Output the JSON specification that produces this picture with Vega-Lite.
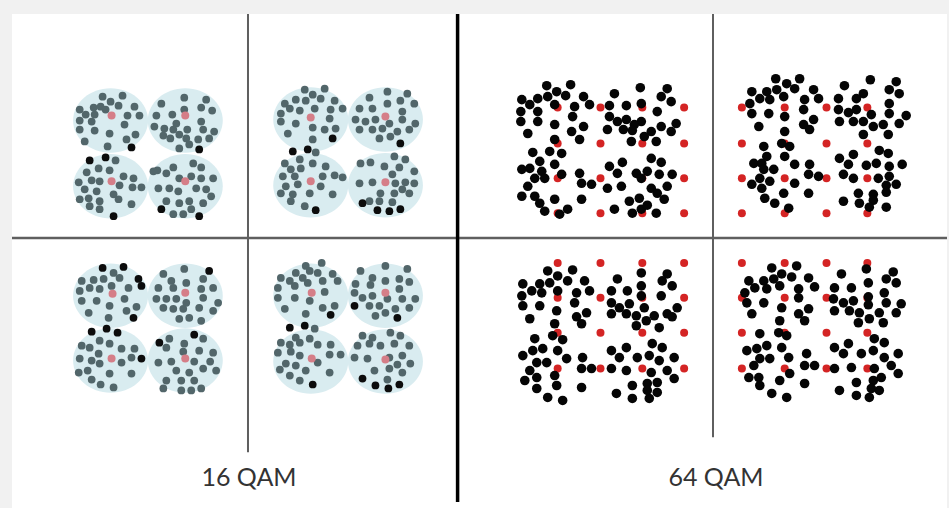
{
"$schema":"https://vega.github.io/schema/vega-lite/v6.json",
"width":949,"height":508,
"autosize":{"type":"fit","contains":"padding"},
"padding":{"left":10,"top":12,"right":0,"bottom":0},
"background":"#f1f1f1",
"config":{"view":{"stroke":null,"fill":"#ffffff"}},
"datasets":{
"discs":[{"x":109,"y":119},{"x":184,"y":119},{"x":109,"y":185},{"x":184,"y":185},{"x":310,"y":118},{"x":385,"y":118},{"x":310,"y":184},{"x":385,"y":184},{"x":109,"y":295},{"x":184,"y":295},{"x":109,"y":360},{"x":184,"y":360},{"x":310,"y":295},{"x":385,"y":295},{"x":310,"y":361},{"x":385,"y":361}],
"ideal16":[{"x":110,"y":114},{"x":184,"y":114},{"x":110,"y":180},{"x":184,"y":180},{"x":310,"y":116},{"x":385,"y":115},{"x":310,"y":180},{"x":385,"y":181},{"x":111,"y":293},{"x":184,"y":292},{"x":110,"y":358},{"x":184,"y":358},{"x":311,"y":292},{"x":385,"y":292},{"x":311,"y":358},{"x":385,"y":359}],
"noise16":[
{"x":101,"y":95,"t":"g"},{"x":121,"y":94,"t":"g"},{"x":109,"y":100,"t":"g"},{"x":117,"y":104,"t":"g"},{"x":92,"y":106,"t":"g"},{"x":99,"y":105,"t":"g"},{"x":104,"y":108,"t":"g"},{"x":78,"y":108,"t":"g"},{"x":84,"y":113,"t":"g"},{"x":93,"y":113,"t":"g"},{"x":133,"y":105,"t":"g"},{"x":138,"y":114,"t":"g"},{"x":126,"y":114,"t":"g"},{"x":78,"y":119,"t":"g"},{"x":90,"y":120,"t":"g"},{"x":123,"y":123,"t":"g"},{"x":134,"y":133,"t":"g"},{"x":78,"y":128,"t":"g"},{"x":93,"y":129,"t":"g"},{"x":108,"y":132,"t":"g"},{"x":83,"y":140,"t":"g"},{"x":106,"y":145,"t":"g"},{"x":125,"y":138,"t":"g"},{"x":130,"y":146,"t":"k"},
{"x":160,"y":102,"t":"g"},{"x":183,"y":96,"t":"g"},{"x":205,"y":98,"t":"g"},{"x":200,"y":106,"t":"g"},{"x":211,"y":109,"t":"g"},{"x":171,"y":113,"t":"g"},{"x":155,"y":114,"t":"g"},{"x":183,"y":108,"t":"g"},{"x":200,"y":120,"t":"g"},{"x":175,"y":122,"t":"g"},{"x":153,"y":125,"t":"g"},{"x":163,"y":127,"t":"g"},{"x":172,"y":128,"t":"g"},{"x":186,"y":128,"t":"g"},{"x":202,"y":128,"t":"g"},{"x":213,"y":130,"t":"g"},{"x":162,"y":134,"t":"g"},{"x":169,"y":137,"t":"g"},{"x":178,"y":133,"t":"g"},{"x":185,"y":137,"t":"g"},{"x":197,"y":138,"t":"g"},{"x":208,"y":137,"t":"g"},{"x":178,"y":147,"t":"g"},{"x":188,"y":143,"t":"g"},{"x":198,"y":148,"t":"k"},
{"x":88,"y":159,"t":"k"},{"x":104,"y":156,"t":"k"},{"x":114,"y":159,"t":"g"},{"x":97,"y":167,"t":"g"},{"x":108,"y":169,"t":"g"},{"x":85,"y":171,"t":"g"},{"x":122,"y":175,"t":"g"},{"x":90,"y":179,"t":"g"},{"x":98,"y":180,"t":"g"},{"x":132,"y":177,"t":"g"},{"x":77,"y":181,"t":"g"},{"x":83,"y":188,"t":"g"},{"x":95,"y":190,"t":"g"},{"x":118,"y":184,"t":"g"},{"x":131,"y":186,"t":"g"},{"x":140,"y":186,"t":"g"},{"x":112,"y":193,"t":"g"},{"x":87,"y":197,"t":"g"},{"x":78,"y":198,"t":"g"},{"x":117,"y":198,"t":"g"},{"x":98,"y":200,"t":"g"},{"x":130,"y":203,"t":"g"},{"x":88,"y":205,"t":"g"},{"x":98,"y":208,"t":"g"},{"x":112,"y":215,"t":"k"},
{"x":192,"y":162,"t":"g"},{"x":200,"y":166,"t":"g"},{"x":172,"y":166,"t":"g"},{"x":156,"y":169,"t":"g"},{"x":165,"y":172,"t":"g"},{"x":190,"y":175,"t":"g"},{"x":178,"y":177,"t":"g"},{"x":200,"y":177,"t":"g"},{"x":212,"y":177,"t":"g"},{"x":157,"y":187,"t":"g"},{"x":168,"y":187,"t":"g"},{"x":195,"y":187,"t":"g"},{"x":205,"y":188,"t":"g"},{"x":177,"y":190,"t":"g"},{"x":210,"y":195,"t":"g"},{"x":165,"y":200,"t":"g"},{"x":178,"y":202,"t":"g"},{"x":188,"y":200,"t":"g"},{"x":202,"y":202,"t":"g"},{"x":190,"y":208,"t":"g"},{"x":160,"y":208,"t":"k"},{"x":172,"y":213,"t":"g"},{"x":182,"y":213,"t":"g"},{"x":198,"y":215,"t":"k"},{"x":152,"y":170,"t":"g"},
{"x":304,"y":88,"t":"g"},{"x":324,"y":87,"t":"g"},{"x":312,"y":93,"t":"g"},{"x":295,"y":98,"t":"g"},{"x":305,"y":99,"t":"g"},{"x":320,"y":97,"t":"g"},{"x":284,"y":102,"t":"g"},{"x":289,"y":107,"t":"g"},{"x":299,"y":109,"t":"g"},{"x":334,"y":99,"t":"g"},{"x":342,"y":107,"t":"g"},{"x":330,"y":108,"t":"g"},{"x":280,"y":112,"t":"g"},{"x":314,"y":107,"t":"g"},{"x":329,"y":117,"t":"g"},{"x":280,"y":120,"t":"g"},{"x":295,"y":122,"t":"g"},{"x":312,"y":126,"t":"g"},{"x":335,"y":127,"t":"g"},{"x":287,"y":132,"t":"g"},{"x":312,"y":138,"t":"g"},{"x":324,"y":128,"t":"g"},{"x":332,"y":137,"t":"k"},
{"x":387,"y":90,"t":"g"},{"x":407,"y":92,"t":"g"},{"x":369,"y":96,"t":"g"},{"x":400,"y":99,"t":"g"},{"x":414,"y":102,"t":"g"},{"x":359,"y":107,"t":"g"},{"x":372,"y":107,"t":"g"},{"x":387,"y":102,"t":"g"},{"x":402,"y":110,"t":"g"},{"x":355,"y":118,"t":"g"},{"x":365,"y":120,"t":"g"},{"x":375,"y":118,"t":"g"},{"x":389,"y":122,"t":"g"},{"x":402,"y":118,"t":"g"},{"x":415,"y":122,"t":"g"},{"x":359,"y":128,"t":"g"},{"x":372,"y":128,"t":"g"},{"x":382,"y":127,"t":"g"},{"x":397,"y":130,"t":"g"},{"x":409,"y":128,"t":"g"},{"x":379,"y":137,"t":"g"},{"x":390,"y":135,"t":"g"},{"x":400,"y":142,"t":"k"},
{"x":292,"y":150,"t":"k"},{"x":307,"y":148,"t":"k"},{"x":315,"y":151,"t":"g"},{"x":299,"y":158,"t":"g"},{"x":312,"y":162,"t":"g"},{"x":284,"y":162,"t":"g"},{"x":290,"y":168,"t":"g"},{"x":300,"y":167,"t":"g"},{"x":325,"y":165,"t":"g"},{"x":282,"y":175,"t":"g"},{"x":294,"y":175,"t":"g"},{"x":322,"y":175,"t":"g"},{"x":334,"y":174,"t":"g"},{"x":342,"y":176,"t":"g"},{"x":285,"y":185,"t":"g"},{"x":297,"y":183,"t":"g"},{"x":320,"y":185,"t":"g"},{"x":280,"y":192,"t":"g"},{"x":292,"y":193,"t":"g"},{"x":309,"y":192,"t":"g"},{"x":332,"y":193,"t":"g"},{"x":290,"y":200,"t":"g"},{"x":304,"y":205,"t":"g"},{"x":315,"y":209,"t":"k"},
{"x":394,"y":155,"t":"g"},{"x":405,"y":158,"t":"g"},{"x":360,"y":162,"t":"g"},{"x":370,"y":161,"t":"g"},{"x":384,"y":165,"t":"g"},{"x":399,"y":166,"t":"g"},{"x":414,"y":170,"t":"g"},{"x":359,"y":182,"t":"g"},{"x":372,"y":181,"t":"g"},{"x":395,"y":182,"t":"g"},{"x":405,"y":181,"t":"g"},{"x":392,"y":173,"t":"g"},{"x":402,"y":188,"t":"g"},{"x":380,"y":192,"t":"g"},{"x":394,"y":192,"t":"g"},{"x":409,"y":192,"t":"g"},{"x":369,"y":200,"t":"g"},{"x":379,"y":200,"t":"g"},{"x":392,"y":201,"t":"g"},{"x":362,"y":202,"t":"k"},{"x":377,"y":209,"t":"k"},{"x":389,"y":210,"t":"k"},{"x":400,"y":208,"t":"k"},{"x":414,"y":182,"t":"g"},
{"x":101,"y":267,"t":"k"},{"x":122,"y":266,"t":"k"},{"x":112,"y":272,"t":"g"},{"x":137,"y":278,"t":"k"},{"x":80,"y":280,"t":"g"},{"x":92,"y":279,"t":"g"},{"x":102,"y":278,"t":"g"},{"x":118,"y":277,"t":"g"},{"x":88,"y":287,"t":"g"},{"x":98,"y":288,"t":"g"},{"x":78,"y":290,"t":"g"},{"x":127,"y":287,"t":"g"},{"x":140,"y":285,"t":"k"},{"x":110,"y":285,"t":"g"},{"x":123,"y":298,"t":"g"},{"x":135,"y":306,"t":"g"},{"x":80,"y":300,"t":"g"},{"x":95,"y":300,"t":"g"},{"x":108,"y":305,"t":"g"},{"x":87,"y":312,"t":"g"},{"x":107,"y":317,"t":"g"},{"x":125,"y":310,"t":"g"},{"x":132,"y":317,"t":"k"},
{"x":162,"y":273,"t":"g"},{"x":183,"y":268,"t":"g"},{"x":208,"y":270,"t":"k"},{"x":170,"y":280,"t":"g"},{"x":202,"y":278,"t":"g"},{"x":212,"y":287,"t":"g"},{"x":157,"y":287,"t":"g"},{"x":172,"y":287,"t":"g"},{"x":185,"y":282,"t":"g"},{"x":200,"y":288,"t":"g"},{"x":155,"y":298,"t":"g"},{"x":165,"y":298,"t":"g"},{"x":175,"y":298,"t":"g"},{"x":185,"y":302,"t":"g"},{"x":202,"y":297,"t":"g"},{"x":217,"y":302,"t":"g"},{"x":162,"y":307,"t":"g"},{"x":172,"y":308,"t":"g"},{"x":182,"y":308,"t":"g"},{"x":198,"y":307,"t":"g"},{"x":212,"y":310,"t":"g"},{"x":178,"y":318,"t":"g"},{"x":188,"y":317,"t":"g"},{"x":200,"y":320,"t":"g"},
{"x":90,"y":331,"t":"k"},{"x":105,"y":328,"t":"k"},{"x":116,"y":332,"t":"k"},{"x":98,"y":340,"t":"g"},{"x":108,"y":343,"t":"g"},{"x":80,"y":345,"t":"g"},{"x":88,"y":347,"t":"g"},{"x":120,"y":348,"t":"g"},{"x":97,"y":353,"t":"g"},{"x":133,"y":348,"t":"g"},{"x":90,"y":360,"t":"g"},{"x":130,"y":357,"t":"g"},{"x":140,"y":358,"t":"k"},{"x":78,"y":358,"t":"g"},{"x":98,"y":363,"t":"g"},{"x":120,"y":362,"t":"g"},{"x":86,"y":370,"t":"g"},{"x":77,"y":372,"t":"g"},{"x":108,"y":373,"t":"g"},{"x":130,"y":373,"t":"g"},{"x":90,"y":379,"t":"g"},{"x":99,"y":384,"t":"g"},{"x":112,"y":387,"t":"g"},
{"x":158,"y":342,"t":"k"},{"x":168,"y":338,"t":"g"},{"x":193,"y":334,"t":"k"},{"x":202,"y":338,"t":"g"},{"x":183,"y":343,"t":"g"},{"x":165,"y":347,"t":"g"},{"x":182,"y":351,"t":"g"},{"x":198,"y":350,"t":"g"},{"x":212,"y":352,"t":"g"},{"x":157,"y":362,"t":"g"},{"x":170,"y":361,"t":"g"},{"x":193,"y":361,"t":"g"},{"x":209,"y":361,"t":"g"},{"x":202,"y":368,"t":"g"},{"x":215,"y":370,"t":"g"},{"x":175,"y":370,"t":"g"},{"x":188,"y":372,"t":"g"},{"x":165,"y":380,"t":"g"},{"x":180,"y":380,"t":"g"},{"x":193,"y":380,"t":"g"},{"x":162,"y":388,"t":"g"},{"x":180,"y":390,"t":"g"},{"x":190,"y":390,"t":"g"},{"x":200,"y":388,"t":"g"},
{"x":305,"y":265,"t":"g"},{"x":321,"y":262,"t":"g"},{"x":295,"y":272,"t":"g"},{"x":309,"y":270,"t":"g"},{"x":317,"y":272,"t":"g"},{"x":280,"y":277,"t":"g"},{"x":289,"y":280,"t":"g"},{"x":302,"y":277,"t":"g"},{"x":332,"y":273,"t":"g"},{"x":337,"y":280,"t":"g"},{"x":322,"y":280,"t":"g"},{"x":307,"y":282,"t":"g"},{"x":277,"y":287,"t":"g"},{"x":294,"y":285,"t":"g"},{"x":324,"y":291,"t":"g"},{"x":277,"y":297,"t":"g"},{"x":294,"y":297,"t":"g"},{"x":309,"y":300,"t":"g"},{"x":322,"y":307,"t":"g"},{"x":334,"y":305,"t":"g"},{"x":284,"y":308,"t":"g"},{"x":305,"y":313,"t":"g"},{"x":330,"y":314,"t":"k"},
{"x":360,"y":270,"t":"g"},{"x":385,"y":265,"t":"g"},{"x":407,"y":268,"t":"g"},{"x":372,"y":277,"t":"g"},{"x":399,"y":278,"t":"g"},{"x":409,"y":281,"t":"g"},{"x":355,"y":283,"t":"g"},{"x":370,"y":284,"t":"g"},{"x":385,"y":280,"t":"g"},{"x":354,"y":292,"t":"g"},{"x":362,"y":297,"t":"g"},{"x":372,"y":295,"t":"g"},{"x":399,"y":288,"t":"g"},{"x":402,"y":298,"t":"g"},{"x":415,"y":298,"t":"g"},{"x":354,"y":305,"t":"k"},{"x":369,"y":305,"t":"g"},{"x":379,"y":305,"t":"g"},{"x":387,"y":298,"t":"g"},{"x":395,"y":308,"t":"g"},{"x":409,"y":307,"t":"g"},{"x":375,"y":315,"t":"g"},{"x":385,"y":312,"t":"g"},{"x":397,"y":317,"t":"k"},
{"x":289,"y":327,"t":"k"},{"x":304,"y":325,"t":"k"},{"x":314,"y":328,"t":"g"},{"x":295,"y":337,"t":"g"},{"x":309,"y":338,"t":"g"},{"x":280,"y":342,"t":"g"},{"x":289,"y":344,"t":"g"},{"x":299,"y":342,"t":"g"},{"x":317,"y":344,"t":"g"},{"x":330,"y":344,"t":"g"},{"x":277,"y":352,"t":"g"},{"x":290,"y":351,"t":"g"},{"x":299,"y":355,"t":"g"},{"x":329,"y":354,"t":"g"},{"x":340,"y":354,"t":"g"},{"x":285,"y":363,"t":"g"},{"x":295,"y":365,"t":"g"},{"x":317,"y":362,"t":"g"},{"x":279,"y":369,"t":"g"},{"x":305,"y":370,"t":"g"},{"x":329,"y":372,"t":"g"},{"x":289,"y":375,"t":"g"},{"x":299,"y":380,"t":"g"},{"x":312,"y":384,"t":"k"},
{"x":362,"y":335,"t":"g"},{"x":372,"y":337,"t":"g"},{"x":390,"y":332,"t":"g"},{"x":400,"y":335,"t":"g"},{"x":357,"y":345,"t":"g"},{"x":369,"y":343,"t":"g"},{"x":380,"y":345,"t":"g"},{"x":394,"y":343,"t":"g"},{"x":409,"y":345,"t":"g"},{"x":354,"y":357,"t":"g"},{"x":367,"y":358,"t":"g"},{"x":389,"y":357,"t":"g"},{"x":402,"y":355,"t":"g"},{"x":397,"y":364,"t":"g"},{"x":410,"y":363,"t":"g"},{"x":374,"y":370,"t":"g"},{"x":389,"y":368,"t":"g"},{"x":402,"y":372,"t":"g"},{"x":362,"y":378,"t":"k"},{"x":387,"y":379,"t":"g"},{"x":375,"y":385,"t":"k"},{"x":388,"y":388,"t":"k"},{"x":399,"y":384,"t":"k"}],
"ideal64":[
{"x":558,"y":106},{"x":601,"y":106},{"x":643,"y":106},{"x":685,"y":106},{"x":558,"y":142},{"x":601,"y":142},{"x":643,"y":142},{"x":685,"y":142},{"x":558,"y":177},{"x":601,"y":177},{"x":643,"y":177},{"x":685,"y":177},{"x":558,"y":212},{"x":601,"y":212},{"x":643,"y":212},{"x":685,"y":212},
{"x":743,"y":106},{"x":786,"y":106},{"x":828,"y":106},{"x":869,"y":106},{"x":743,"y":142},{"x":786,"y":142},{"x":828,"y":142},{"x":869,"y":142},{"x":743,"y":177},{"x":786,"y":177},{"x":828,"y":177},{"x":869,"y":177},{"x":743,"y":212},{"x":786,"y":212},{"x":828,"y":212},{"x":869,"y":212},
{"x":558,"y":262},{"x":601,"y":262},{"x":643,"y":262},{"x":685,"y":262},{"x":558,"y":297},{"x":601,"y":297},{"x":643,"y":297},{"x":685,"y":297},{"x":558,"y":332},{"x":601,"y":332},{"x":643,"y":332},{"x":685,"y":332},{"x":558,"y":368},{"x":601,"y":368},{"x":643,"y":368},{"x":685,"y":368},
{"x":743,"y":262},{"x":786,"y":262},{"x":828,"y":262},{"x":869,"y":262},{"x":743,"y":297},{"x":786,"y":297},{"x":828,"y":297},{"x":869,"y":297},{"x":743,"y":332},{"x":786,"y":332},{"x":828,"y":332},{"x":869,"y":332},{"x":743,"y":368},{"x":786,"y":368},{"x":828,"y":368},{"x":869,"y":368}],
"noise64":[
{"x":547,"y":84},{"x":571,"y":83},{"x":557,"y":90},{"x":566,"y":94},{"x":548,"y":95},{"x":584,"y":95},{"x":522,"y":98},{"x":538,"y":97},{"x":530,"y":103},{"x":555,"y":103},{"x":575,"y":105},{"x":590,"y":103},{"x":521,"y":110},{"x":538,"y":110},{"x":573,"y":115},{"x":555,"y":123},{"x":521,"y":120},{"x":538,"y":120},{"x":528,"y":132},{"x":572,"y":130},{"x":584,"y":125},{"x":580,"y":138},{"x":555,"y":138},{"x":615,"y":92},{"x":641,"y":86},{"x":668,"y":87},{"x":662,"y":95},{"x":672,"y":100},{"x":642,"y":102},{"x":610,"y":104},{"x":627,"y":104},{"x":658,"y":110},{"x":610,"y":115},{"x":618,"y":120},{"x":627,"y":118},{"x":642,"y":120},{"x":635,"y":123},{"x":608,"y":128},{"x":624,"y":128},{"x":633,"y":129},{"x":652,"y":130},{"x":662,"y":125},{"x":677,"y":122},{"x":672,"y":130},{"x":645,"y":135},{"x":632,"y":140},{"x":657,"y":140},
{"x":533,"y":151},{"x":550,"y":150},{"x":562,"y":152},{"x":540,"y":160},{"x":555,"y":163},{"x":522,"y":168},{"x":530,"y":167},{"x":542,"y":170},{"x":562,"y":173},{"x":535,"y":177},{"x":545,"y":177},{"x":580,"y":172},{"x":582,"y":182},{"x":592,"y":183},{"x":528,"y":185},{"x":522,"y":195},{"x":535,"y":195},{"x":555,"y":198},{"x":540,"y":202},{"x":545,"y":210},{"x":560,"y":213},{"x":568,"y":208},{"x":582,"y":198},{"x":610,"y":165},{"x":623,"y":161},{"x":652,"y":157},{"x":662,"y":161},{"x":618,"y":172},{"x":637,"y":172},{"x":648,"y":170},{"x":660,"y":173},{"x":673,"y":173},{"x":608,"y":187},{"x":622,"y":185},{"x":642,"y":177},{"x":652,"y":187},{"x":668,"y":185},{"x":640,"y":197},{"x":658,"y":192},{"x":665,"y":198},{"x":630,"y":200},{"x":615,"y":208},{"x":633,"y":212},{"x":642,"y":208},{"x":657,"y":212},{"x":648,"y":204},
{"x":777,"y":77},{"x":801,"y":77},{"x":788,"y":82},{"x":796,"y":87},{"x":778,"y":88},{"x":768,"y":90},{"x":753,"y":90},{"x":761,"y":97},{"x":771,"y":98},{"x":785,"y":95},{"x":815,"y":88},{"x":806,"y":98},{"x":820,"y":97},{"x":751,"y":102},{"x":753,"y":112},{"x":770,"y":112},{"x":786,"y":115},{"x":805,"y":108},{"x":815,"y":118},{"x":805,"y":123},{"x":760,"y":125},{"x":811,"y":128},{"x":786,"y":130},{"x":846,"y":84},{"x":872,"y":78},{"x":898,"y":80},{"x":891,"y":88},{"x":901,"y":92},{"x":865,"y":92},{"x":840,"y":97},{"x":858,"y":97},{"x":891,"y":102},{"x":840,"y":108},{"x":850,"y":111},{"x":858,"y":108},{"x":873,"y":113},{"x":891,"y":112},{"x":908,"y":114},{"x":865,"y":120},{"x":841,"y":120},{"x":855,"y":120},{"x":885,"y":123},{"x":875,"y":125},{"x":901,"y":122},{"x":865,"y":133},{"x":890,"y":133},
{"x":765,"y":145},{"x":783,"y":142},{"x":791,"y":145},{"x":768,"y":155},{"x":786,"y":155},{"x":755,"y":162},{"x":763,"y":162},{"x":796,"y":163},{"x":765,"y":168},{"x":775,"y":168},{"x":811,"y":163},{"x":753,"y":183},{"x":761,"y":177},{"x":771,"y":180},{"x":763,"y":187},{"x":796,"y":182},{"x":785,"y":192},{"x":766,"y":197},{"x":776,"y":202},{"x":790,"y":207},{"x":810,"y":173},{"x":820,"y":175},{"x":810,"y":192},{"x":841,"y":157},{"x":855,"y":153},{"x":881,"y":149},{"x":890,"y":152},{"x":850,"y":163},{"x":868,"y":164},{"x":878,"y":162},{"x":891,"y":165},{"x":904,"y":163},{"x":845,"y":173},{"x":855,"y":177},{"x":880,"y":177},{"x":891,"y":175},{"x":898,"y":183},{"x":888,"y":184},{"x":860,"y":192},{"x":875,"y":193},{"x":888,"y":191},{"x":845,"y":200},{"x":861,"y":202},{"x":875,"y":199},{"x":871,"y":206},{"x":888,"y":206},
{"x":548,"y":270},{"x":558,"y":275},{"x":573,"y":269},{"x":568,"y":280},{"x":550,"y":282},{"x":540,"y":283},{"x":523,"y":283},{"x":585,"y":280},{"x":532,"y":290},{"x":542,"y":292},{"x":522,"y":295},{"x":558,"y":290},{"x":577,"y":292},{"x":590,"y":290},{"x":575,"y":302},{"x":540,"y":305},{"x":523,"y":305},{"x":557,"y":310},{"x":587,"y":312},{"x":530,"y":318},{"x":577,"y":316},{"x":582,"y":323},{"x":555,"y":323},{"x":618,"y":278},{"x":642,"y":272},{"x":668,"y":273},{"x":663,"y":280},{"x":673,"y":285},{"x":642,"y":285},{"x":612,"y":290},{"x":628,"y":290},{"x":662,"y":295},{"x":612,"y":302},{"x":620,"y":307},{"x":630,"y":303},{"x":642,"y":295},{"x":645,"y":307},{"x":612,"y":313},{"x":627,"y":313},{"x":637,"y":315},{"x":655,"y":315},{"x":668,"y":313},{"x":678,"y":307},{"x":673,"y":316},{"x":647,"y":320},{"x":637,"y":325},{"x":660,"y":327},
{"x":535,"y":338},{"x":553,"y":335},{"x":563,"y":339},{"x":533,"y":350},{"x":543,"y":348},{"x":523,"y":355},{"x":558,"y":350},{"x":567,"y":358},{"x":537,"y":362},{"x":547,"y":362},{"x":583,"y":357},{"x":582,"y":368},{"x":592,"y":368},{"x":530,"y":370},{"x":525,"y":380},{"x":537,"y":377},{"x":555,"y":375},{"x":537,"y":388},{"x":557,"y":385},{"x":548,"y":397},{"x":563,"y":400},{"x":582,"y":387},{"x":612,"y":350},{"x":627,"y":347},{"x":653,"y":343},{"x":663,"y":347},{"x":620,"y":357},{"x":638,"y":357},{"x":650,"y":355},{"x":660,"y":360},{"x":675,"y":357},{"x":612,"y":368},{"x":627,"y":370},{"x":652,"y":372},{"x":668,"y":370},{"x":675,"y":378},{"x":658,"y":382},{"x":633,"y":385},{"x":648,"y":383},{"x":617,"y":393},{"x":633,"y":398},{"x":650,"y":398},{"x":658,"y":392},{"x":648,"y":390},
{"x":773,"y":267},{"x":798,"y":265},{"x":783,"y":273},{"x":793,"y":276},{"x":775,"y":278},{"x":810,"y":277},{"x":750,"y":280},{"x":765,"y":280},{"x":756,"y":287},{"x":768,"y":288},{"x":781,"y":285},{"x":800,"y":288},{"x":816,"y":286},{"x":746,"y":292},{"x":748,"y":302},{"x":765,"y":302},{"x":783,"y":307},{"x":800,"y":297},{"x":810,"y":308},{"x":800,"y":313},{"x":753,"y":313},{"x":806,"y":320},{"x":781,"y":320},{"x":843,"y":273},{"x":868,"y":268},{"x":895,"y":271},{"x":888,"y":278},{"x":898,"y":282},{"x":870,"y":282},{"x":836,"y":287},{"x":853,"y":287},{"x":886,"y":292},{"x":835,"y":298},{"x":845,"y":302},{"x":855,"y":300},{"x":870,"y":296},{"x":888,"y":302},{"x":903,"y":303},{"x":870,"y":304},{"x":836,"y":310},{"x":851,"y":310},{"x":861,"y":312},{"x":881,"y":312},{"x":898,"y":312},{"x":860,"y":322},{"x":871,"y":318},{"x":885,"y":322},
{"x":761,"y":333},{"x":780,"y":332},{"x":788,"y":335},{"x":748,"y":350},{"x":758,"y":348},{"x":768,"y":345},{"x":783,"y":347},{"x":808,"y":353},{"x":761,"y":358},{"x":771,"y":358},{"x":790,"y":357},{"x":755,"y":365},{"x":806,"y":365},{"x":816,"y":365},{"x":750,"y":377},{"x":760,"y":377},{"x":781,"y":380},{"x":791,"y":373},{"x":761,"y":385},{"x":773,"y":393},{"x":788,"y":397},{"x":806,"y":383},{"x":836,"y":347},{"x":850,"y":343},{"x":876,"y":338},{"x":886,"y":342},{"x":845,"y":353},{"x":863,"y":353},{"x":875,"y":350},{"x":886,"y":357},{"x":900,"y":353},{"x":836,"y":368},{"x":853,"y":367},{"x":876,"y":368},{"x":893,"y":365},{"x":900,"y":373},{"x":883,"y":377},{"x":858,"y":382},{"x":875,"y":380},{"x":841,"y":390},{"x":858,"y":395},{"x":871,"y":397},{"x":881,"y":390},{"x":873,"y":388}],
"vrules":[{"x":247,"y":12,"y2":452},{"x":714,"y":12,"y2":437}],
"hrules":[{"x":10,"x2":456,"y":237},{"x":459,"x2":949,"y":237}],
"divider":[{"x":457.5,"y":12,"y2":502}],
"labels":[{"x":248,"y":478,"label":"16 QAM"},{"x":717,"y":478,"label":"64 QAM"}]
},
"encoding":{
"x":{"field":"x","type":"quantitative","scale":{"domain":[10,949],"nice":false,"zero":false},"axis":null},
"y":{"field":"y","type":"quantitative","scale":{"domain":[12,508],"nice":false,"zero":false,"reverse":true},"axis":null}
},
"layer":[
{"data":{"name":"discs"},"mark":{"type":"point","filled":true,"shape":"M-1,0A1,0.86,0,1,0,1,0A1,0.86,0,1,0,-1,0Z","size":5625,"color":"#d9ecf0","opacity":1}},
{"data":{"name":"noise16"},"mark":{"type":"circle","size":60,"opacity":1},"encoding":{"color":{"field":"t","type":"nominal","scale":{"domain":["g","k"],"range":["#52666a","#0c0c0c"]},"legend":null}}},
{"data":{"name":"ideal16"},"mark":{"type":"circle","size":64,"color":"#d57e88","opacity":1}},
{"data":{"name":"ideal64"},"mark":{"type":"circle","size":64,"color":"#d42424","opacity":1}},
{"data":{"name":"noise64"},"mark":{"type":"circle","size":92,"color":"#050505","opacity":1}},
{"data":{"name":"vrules"},"mark":{"type":"rule","color":"#5f5f5f","strokeWidth":2},"encoding":{"y2":{"field":"y2"}}},
{"data":{"name":"hrules"},"mark":{"type":"rule","color":"#5f5f5f","strokeWidth":2.5},"encoding":{"x2":{"field":"x2"}}},
{"data":{"name":"divider"},"mark":{"type":"rule","color":"#000000","strokeWidth":3.5},"encoding":{"y2":{"field":"y2"}}},
{"data":{"name":"labels"},"mark":{"type":"text","font":"Lato","fontSize":25,"color":"#333333","baseline":"middle","align":"center"},"encoding":{"text":{"field":"label"}}}
]
}
